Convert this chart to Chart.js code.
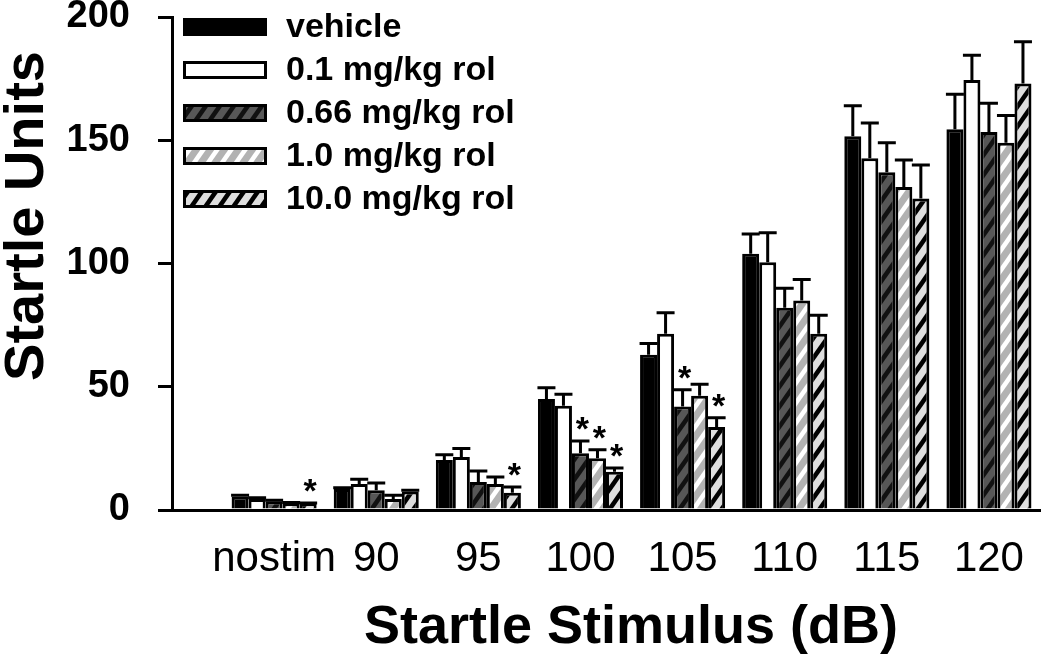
<!DOCTYPE html>
<html>
<head>
<meta charset="utf-8">
<script src="https://cdn.jsdelivr.net/npm/chart.js@4.4.1/dist/chart.umd.min.js"></script>
<style>
  html, body { margin: 0; padding: 0; background: #fff; }
</style>
</head>
<body>
<canvas id="startle" width="1050" height="662"></canvas>
<script>
const stimuli = ['nostim', '90', '95', '100', '105', '110', '115', '120']
const doses = ['vehicle', '0.1 mg/kg rol', '0.66 mg/kg rol', '1.0 mg/kg rol', '10.0 mg/kg rol']

// mean startle per stimulus
const vehicle = [5.5, 8.5, 20.3, 45, 63, 104, 151.6, 154.5]
const rol01 = [4.5, 10.5, 21.5, 42.3, 71.5, 100.5, 142.7, 174.4]
const rol066 = [3.5, 8, 11.4, 23, 42, 82, 137, 153.3]
const rol1 = [2.5, 4.5, 10.5, 21, 46.3, 85, 131, 149]
const rol10 = [2.5, 7.5, 7, 15.5, 33.7, 71.5, 126.4, 173]

// SEM (upper error bar only)
const vehicleErr = [0.5, 0.5, 2.1, 4.6, 4.5, 8, 12.4, 14.2]
const rol01Err = [0.5, 2, 3.5, 4.7, 8.5, 12, 14.3, 10.1]
const rol066Err = [0.5, 3, 4.4, 5, 6.8, 8, 12, 11.7]
const rol1Err = [0.5, 1.5, 2.9, 3.4, 4.7, 8.5, 11, 11]
const rol10Err = [0.3, 0.5, 2.3, 1.5, 3.7, 7.5, 13.6, 17]

// [stimulus index, dose index] marked with *
const starred = [[0, 4], [2, 4], [3, 2], [3, 3], [3, 4], [4, 2], [4, 4]]

const yTicks = [0, 50, 100, 150, 200]

const FONT = '"Liberation Sans", Arial, Helvetica, sans-serif'

function stripes(bg, fg) {
  const w = 14, h = 20
  const c = document.createElement('canvas')
  c.width = w
  c.height = h
  const g = c.getContext('2d')
  g.fillStyle = bg
  g.fillRect(0, 0, w, h)
  g.strokeStyle = fg
  g.lineWidth = 4.5
  for (const off of [-w, 0, w]) {
    g.beginPath()
    g.moveTo(off - 3, h + 4.3)
    g.lineTo(off + w + 3, -4.3)
    g.stroke()
  }
  return g.createPattern(c, 'repeat')
}

const fills = [
  '#000000',
  '#ffffff',
  stripes('#575757', '#111111'),
  stripes('#b2b2b2', '#ffffff'),
  stripes('#dedede', '#000000')
]

const series = [vehicle, rol01, rol066, rol1, rol10]
const errors = [vehicleErr, rol01Err, rol066Err, rol1Err, rol10Err]

const extras = {
  id: 'extras',
  afterDatasetsDraw(chart) {
    const ctx = chart.ctx
    const y = chart.scales.y
    ctx.save()
    ctx.strokeStyle = '#000'
    ctx.lineWidth = 3
    series.forEach((vals, d) => {
      const meta = chart.getDatasetMeta(d)
      meta.data.forEach((bar, i) => {
        const top = y.getPixelForValue(vals[i])
        const cap = y.getPixelForValue(vals[i] + errors[d][i])
        ctx.beginPath()
        ctx.moveTo(bar.x, top)
        ctx.lineTo(bar.x, cap)
        ctx.moveTo(bar.x - 9, cap)
        ctx.lineTo(bar.x + 9, cap)
        ctx.stroke()
      })
    })
    ctx.fillStyle = '#000'
    ctx.font = 'bold 34px ' + FONT
    ctx.textAlign = 'center'
    ctx.textBaseline = 'alphabetic'
    starred.forEach(([i, d]) => {
      const bar = chart.getDatasetMeta(d).data[i]
      const cap = y.getPixelForValue(series[d][i] + errors[d][i])
      ctx.fillText('*', bar.x + 2, cap - 1)
    })
    ctx.restore()
  },
  afterDraw(chart) {
    const ctx = chart.ctx
    ctx.save()
    // legend
    doses.forEach((name, d) => {
      const cy = 27 + 43 * d
      ctx.fillStyle = fills[d]
      ctx.fillRect(183, cy - 9, 84, 18)
      ctx.strokeStyle = '#000'
      ctx.lineWidth = 3
      ctx.strokeRect(184.5, cy - 7.5, 81, 15)
      ctx.fillStyle = '#000'
      ctx.font = 'bold 34px ' + FONT
      ctx.textAlign = 'left'
      ctx.textBaseline = 'middle'
      ctx.fillText(name, 286, cy + 1)
    })
    // axis titles
    ctx.font = 'bold 54px ' + FONT
    ctx.textAlign = 'center'
    ctx.textBaseline = 'middle'
    ctx.fillText('Startle Stimulus (dB)', 631, 628)
    ctx.translate(28, 216)
    ctx.rotate(-Math.PI / 2)
    ctx.font = 'bold 56px ' + FONT
    ctx.fillText('Startle Units', 0, 0)
    ctx.restore()
  }
}

new Chart(document.getElementById('startle'), {
  type: 'bar',
  data: {
    datasets: series.map((vals, d) => ({
      label: doses[d],
      data: vals.map((v, i) => ({ x: i, y: v })),
      backgroundColor: fills[d],
      borderColor: '#000',
      borderWidth: 3,
      borderSkipped: 'start'
    }))
  },
  options: {
    responsive: false,
    animation: false,
    layout: { padding: { top: 17, right: 10, left: 0, bottom: 0 } },
    datasets: { bar: { categoryPercentage: 0.833, barPercentage: 1 } },
    plugins: { legend: { display: false }, tooltip: { enabled: false } },
    scales: {
      x: {
        type: 'linear',
        min: -1,
        max: 7.5,
        offset: false,
        afterBuildTicks: s => { s.ticks = stimuli.map((_, i) => ({ value: i })) },
        afterFit: s => { s.height = 152; s.paddingLeft = 0; s.paddingRight = 0 },
        grid: { display: false, drawTicks: false },
        border: { display: true, color: '#000', width: 3 },
        ticks: {
          autoSkip: false,
          maxRotation: 0,
          minRotation: 0,
          padding: 24,
          color: '#000',
          font: { family: FONT, size: 42 },
          callback: v => stimuli[v] ?? ''
        }
      },
      y: {
        min: 0,
        max: 200,
        afterBuildTicks: s => { s.ticks = yTicks.map(v => ({ value: v })) },
        afterFit: s => { s.width = 172; s.paddingTop = 0; s.paddingBottom = 0 },
        grid: { drawOnChartArea: false, drawTicks: true, tickLength: 14, lineWidth: 3, color: '#000' },
        border: { display: true, color: '#000', width: 3 },
        ticks: {
          padding: 28,
          color: '#000',
          font: { family: FONT, size: 38, weight: 'bold' }
        }
      }
    }
  },
  plugins: [extras]
})
</script>
</body>
</html>
